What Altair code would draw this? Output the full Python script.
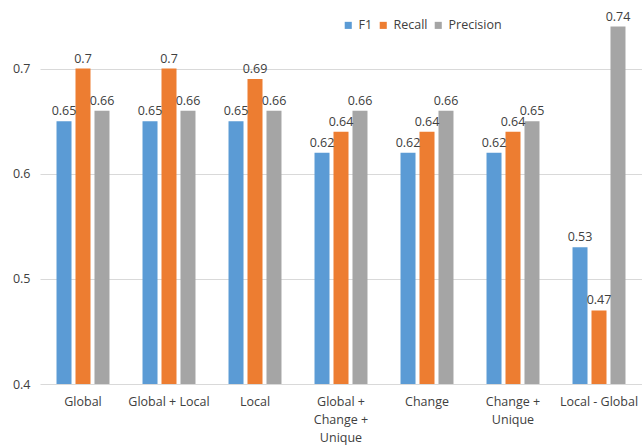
import altair as alt
import pandas as pd

categories = ["Global", "Global + Local", "Local", "Global + Change + Unique",
              "Change", "Change + Unique", "Local - Global"]
series = ["F1", "Recall", "Precision"]
f1 = [0.65, 0.65, 0.65, 0.62, 0.62, 0.62, 0.53]
recall = [0.70, 0.70, 0.69, 0.64, 0.64, 0.64, 0.47]
precision = [0.66, 0.66, 0.66, 0.66, 0.66, 0.65, 0.74]
colors = ["#5b9bd5", "#ed7d31", "#a5a5a5"]
y_ticks = [0.4, 0.5, 0.6, 0.7]

rows = []
for s, vals in zip(series, [f1, recall, precision]):
    for c, v in zip(categories, vals):
        rows.append({"category": c, "series": s, "value": v})
df = pd.DataFrame(rows)

FONT = "Open Sans"

label_expr = ("datum.value == 'Global + Change + Unique' ? ['Global +', 'Change +', 'Unique'] : "
              "datum.value == 'Change + Unique' ? ['Change +', 'Unique'] : datum.label")

x = alt.X("category:N", sort=categories, title=None,
          scale=alt.Scale(paddingInner=0.384, paddingOuter=0.192),
          axis=alt.Axis(labelAngle=0, ticks=False, domain=False, labelExpr=label_expr,
                        labelFontSize=12.5, labelColor="#404040", labelPadding=11,
                        labelLineHeight=18, labelFont=FONT))
xo = alt.XOffset("series:N", sort=series, scale=alt.Scale(paddingInner=0.21, paddingOuter=0))
y = alt.Y("value:Q", title=None,
          scale=alt.Scale(domain=[0.4, 0.75], zero=False, nice=False),
          axis=alt.Axis(values=y_ticks, format=".1f", ticks=False, domain=False,
                        gridColor="#d9d9d9", labelFontSize=12.5, labelColor="#404040",
                        labelPadding=10, labelFont=FONT))
color = alt.Color("series:N", sort=series,
                  scale=alt.Scale(domain=series, range=colors),
                  legend=alt.Legend(orient="none", legendX=302, legendY=3,
                                    direction="horizontal", title=None,
                                    symbolType="square", symbolSize=50,
                                    symbolStrokeWidth=0, labelFontSize=12.5,
                                    labelColor="#404040", labelFont=FONT,
                                    columnPadding=4, labelOffset=4))

base = alt.Chart(df)
bars = base.mark_bar(clip=True).encode(x=x, xOffset=xo, y=y, color=color)
text = base.mark_text(baseline="bottom", dy=-3, fontSize=12.5, color="#404040",
                      font=FONT).encode(
    x=x, xOffset=xo, y=y, text=alt.Text("value:Q", format=".2~f"))

chart = (bars + text).properties(
    width=602, height=368,
    padding={"left": 40, "top": 16, "right": 0, "bottom": 63},
    autosize=alt.AutoSizeParams(type="none"),
    background="white",
).configure_view(stroke=None)

chart.save("out.html", embed_options={"renderer": "svg", "actions": False})
